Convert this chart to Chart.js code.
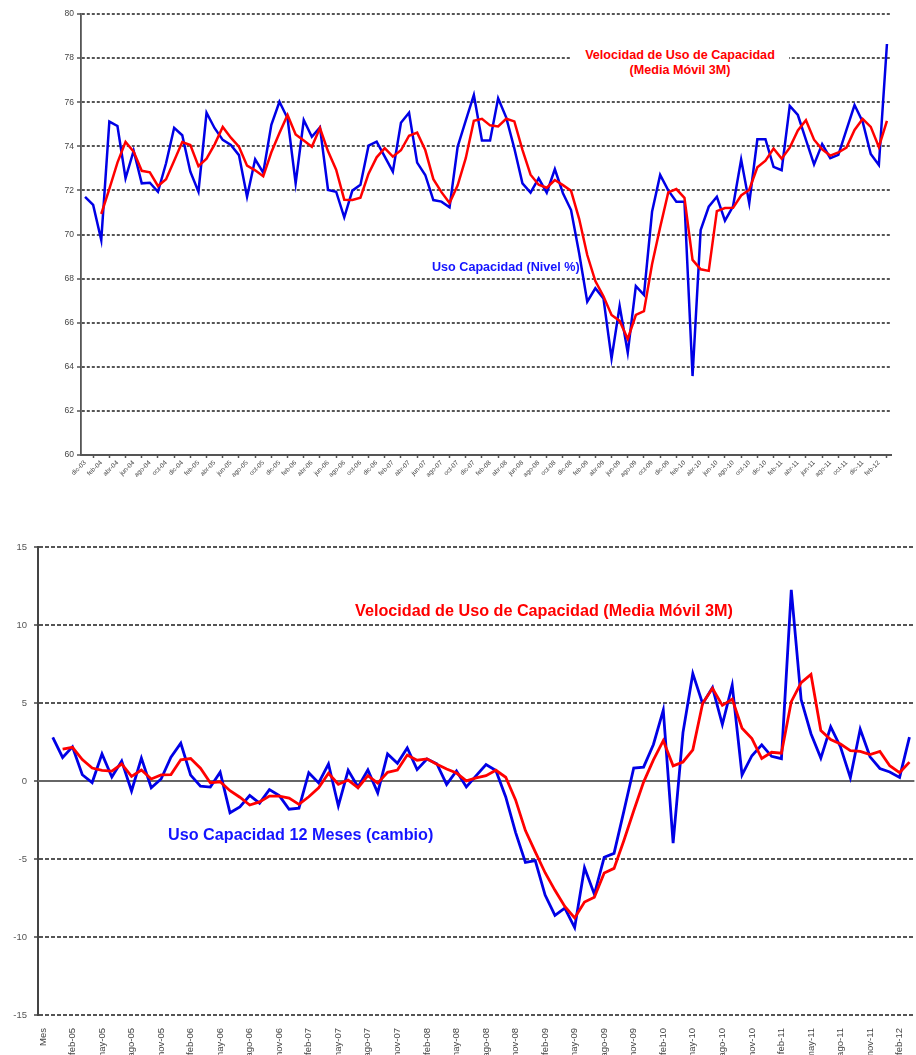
<!DOCTYPE html>
<html>
<head>
<meta charset="utf-8">
<script src="https://cdn.jsdelivr.net/npm/chart.js@4.4.0/dist/chart.umd.min.js"></script>
<style>
  html, body { margin:0; padding:0; background:#fff; }
  body { width:916px; height:1055px; overflow:hidden; position:relative; }
  canvas { position:absolute; left:0; }
  #nivel { top:0; }
  #cambio { top:530px; }
  .nota { position:absolute; font-family:"Liberation Sans", Arial, sans-serif; font-weight:bold; white-space:nowrap; }
</style>
</head>
<body>
<canvas id="nivel" width="916" height="500"></canvas>
<canvas id="cambio" width="916" height="550"></canvas>

<div class="nota" style="left:571px; top:48px; width:218px; text-align:center; font-size:12.6px; line-height:15px; color:#ff0000; background:#fff;">Velocidad de Uso de Capacidad<br>(Media Móvil 3M)</div>
<div class="nota" style="left:432px; top:260px; font-size:12.6px; line-height:15px; color:#1414ff;">Uso Capacidad (Nivel %)</div>
<div class="nota" style="left:355px; top:601px; font-size:16.2px; line-height:19px; color:#ff0000;">Velocidad de Uso de Capacidad (Media Móvil 3M)</div>
<div class="nota" style="left:168px; top:825px; font-size:16.2px; line-height:19px; color:#1414ff;">Uso Capacidad 12 Meses (cambio)</div>

<script>
// ---- datos ----
const meses = ['ene','feb','mar','abr','may','jun','jul','ago','sep','oct','nov','dic'];

// uso de capacidad (nivel %), dic-03 .. mar-12
const nivel = [
  71.71,71.34,69.75,75.12,74.92,72.55,73.8,72.32,72.35,71.94,
  73.23,74.84,74.5,72.85,71.94,75.52,74.82,74.29,74.06,73.6,
  71.71,73.41,72.8,74.97,76.02,75.27,72.32,75.19,74.43,74.86,
  72.02,71.94,70.78,71.99,72.25,74.03,74.21,73.53,72.85,75.07,
  75.52,73.26,72.7,71.56,71.49,71.23,73.98,75.16,76.33,74.26,
  74.26,76.18,75.3,73.9,72.32,71.9,72.55,71.9,72.96,71.87,
  71.11,69.15,66.95,67.56,67.1,64.38,66.76,64.64,67.66,67.26,
  71.03,72.7,72.0,71.49,71.49,63.58,70.2,71.26,71.71,70.63,
  71.28,73.4,71.42,74.32,74.32,73.07,72.92,75.83,75.42,74.29,
  73.18,74.1,73.46,73.61,74.74,75.87,75.12,73.65,73.15,78.64
];
const nivelMedia = [
  null,null,70.93,72.07,73.26,74.20,73.76,72.89,72.82,72.20,
  72.51,73.34,74.19,74.06,73.10,73.44,74.09,74.88,74.39,73.98,
  73.12,72.91,72.64,73.73,74.60,75.42,74.54,74.26,73.98,74.83,
  73.77,72.94,71.58,71.57,71.67,72.76,73.50,73.92,73.53,73.82,
  74.48,74.62,73.83,72.51,71.92,71.43,72.23,73.46,75.16,75.25,
  74.95,74.90,75.25,75.13,73.84,72.71,72.26,72.12,72.47,72.24,
  71.98,70.71,69.07,67.89,67.20,66.35,66.08,65.26,66.35,66.52,
  68.65,70.33,71.91,72.06,71.66,68.85,68.42,68.35,71.06,71.20,
  71.21,71.77,72.03,73.05,73.35,73.90,73.44,73.94,74.72,75.18,
  74.30,73.86,73.58,73.72,73.94,74.74,75.24,74.88,73.97,75.15
];

// cambio 12 meses, 'Mes' + dic-04 .. mar-12
const cambio = [
  null,2.79,1.51,2.19,0.40,-0.10,1.74,0.26,1.28,-0.64,
  1.47,-0.43,0.13,1.52,2.42,0.38,-0.33,-0.39,0.57,-2.04,
  -1.66,-0.93,-1.42,-0.55,-0.94,-1.81,-1.74,0.53,-0.12,1.09,
  -1.60,0.68,-0.38,0.71,-0.76,1.73,1.13,2.12,0.73,1.41,
  1.11,-0.22,0.64,-0.38,0.34,1.06,0.67,-1.02,-3.29,-5.22,
  -5.11,-7.31,-8.62,-8.15,-9.40,-5.56,-7.26,-4.89,-4.64,-1.93,
  0.83,0.89,2.34,4.54,-3.98,3.10,6.88,4.95,5.99,3.62,
  6.14,0.39,1.62,2.32,1.58,1.43,12.25,5.22,3.03,1.47,
  3.47,2.18,0.21,3.32,1.55,0.80,0.58,0.23,2.81
];
const cambioMedia = [
  null,null,2.05,2.16,1.37,0.83,0.68,0.63,1.09,0.30,
  0.70,0.13,0.39,0.41,1.36,1.44,0.82,-0.11,-0.05,-0.62,
  -1.04,-1.54,-1.34,-0.97,-0.97,-1.10,-1.50,-1.01,-0.44,0.50,
  -0.21,0.06,-0.43,0.34,-0.14,0.56,0.70,1.66,1.33,1.42,
  1.08,0.77,0.51,0.01,0.20,0.34,0.69,0.24,-1.21,-3.18,
  -4.54,-5.88,-7.01,-8.04,-8.78,-7.76,-7.45,-5.90,-5.60,-3.82,
  -1.91,-0.07,1.35,2.59,0.97,1.22,2.00,4.98,5.94,4.85,
  5.25,3.38,2.72,1.44,1.84,1.78,5.09,6.30,6.83,3.24,
  2.66,2.37,1.95,1.90,1.69,1.89,0.98,0.54,1.21
];

function mesesDesde(mes, anio, n) {
  const out = [];
  for (let i = 0; i < n; i++) {
    const m = (mes + i) % 12;
    const a = anio + Math.floor((mes + i) / 12);
    out.push(meses[m] + '-' + String(a % 100).padStart(2, '0'));
  }
  return out;
}
const etiquetasNivel = mesesDesde(11, 2003, nivel.length);
const etiquetasCambio = ['Mes'].concat(mesesDesde(11, 2004, cambio.length - 1));

const AZUL = '#0000e6';
const ROJO = '#ff0000';
const fuente = '"Liberation Sans", Arial, sans-serif';

// ---- grafico 1: nivel ----
new Chart(document.getElementById('nivel'), {
  type: 'line',
  data: {
    labels: etiquetasNivel,
    datasets: [
      { label: 'Media Móvil 3M', data: nivelMedia, borderColor: ROJO, borderWidth: 2.5, pointRadius: 0, tension: 0 },
      { label: 'Uso Capacidad (Nivel %)', data: nivel, borderColor: AZUL, borderWidth: 2.5, pointRadius: 0, tension: 0 }
    ]
  },
  options: {
    responsive: false,
    animation: false,
    layout: { padding: { top: 14, right: 25, left: 0, bottom: 0 } },
    plugins: { legend: { display: false }, tooltip: { enabled: false } },
    scales: {
      x: {
        offset: true,
        afterFit: s => { s.height = 45; },
        grid: { display: true, drawOnChartArea: false, drawTicks: true, tickLength: 3, offset: true, tickColor: '#555', tickWidth: 1.5 },
        border: { display: true, color: '#555', width: 2 },
        ticks: {
          autoSkip: false, maxRotation: 45, minRotation: 45, padding: 1,
          color: '#444', font: { family: fuente, size: 6.5 },
          callback: function (v, i) { return i % 2 === 0 ? this.getLabelForValue(v) : null; }
        }
      },
      y: {
        min: 60, max: 80,
        afterFit: s => { s.width = 81; },
        grid: { color: '#555', lineWidth: 2, drawTicks: true, tickLength: 4, tickColor: '#555', tickWidth: 1.5 },
        border: { display: true, color: '#555', width: 1.8, dash: [3, 2] },
        ticks: { stepSize: 2, padding: 3, color: '#444', font: { family: fuente, size: 8.5 } }
      }
    }
  }
});

// ---- grafico 2: cambio 12 meses ----
const lineaCero = {
  id: 'lineaCero',
  beforeDatasetsDraw(chart) {
    const { ctx, chartArea, scales } = chart;
    const py = scales.y.getPixelForValue(0);
    ctx.save();
    ctx.strokeStyle = '#666';
    ctx.lineWidth = 2.2;
    ctx.beginPath();
    ctx.moveTo(chartArea.left, py);
    ctx.lineTo(chartArea.right, py);
    ctx.stroke();
    ctx.restore();
  }
};

new Chart(document.getElementById('cambio'), {
  type: 'line',
  data: {
    labels: etiquetasCambio,
    datasets: [
      { label: 'Media Móvil 3M', data: cambioMedia, borderColor: ROJO, borderWidth: 2.8, pointRadius: 0, tension: 0 },
      { label: 'Uso Capacidad 12 Meses (cambio)', data: cambio, borderColor: AZUL, borderWidth: 2.8, pointRadius: 0, tension: 0 }
    ]
  },
  options: {
    responsive: false,
    animation: false,
    layout: { padding: { top: 17, right: 0, left: 0, bottom: 0 } },
    plugins: { legend: { display: false }, tooltip: { enabled: false } },
    scales: {
      x: {
        offset: true,
        afterFit: s => { s.height = 65; },
        grid: { display: false },
        border: { display: false },
        ticks: {
          autoSkip: false, maxRotation: 90, minRotation: 90, padding: 5,
          color: '#444', font: { family: fuente, size: 9.5 },
          callback: function (v, i) { return i % 3 === 0 ? this.getLabelForValue(v) : null; }
        }
      },
      y: {
        min: -15, max: 15,
        afterFit: s => { s.width = 38; },
        grid: { color: '#555', lineWidth: 2, drawTicks: true, tickLength: 4, tickColor: '#444', tickWidth: 1.5 },
        border: { display: true, color: '#444', width: 2, dash: [4, 2] },
        ticks: { stepSize: 5, padding: 7, color: '#555', font: { family: fuente, size: 9.5 } }
      }
    }
  },
  plugins: [lineaCero]
});
</script>
</body>
</html>
